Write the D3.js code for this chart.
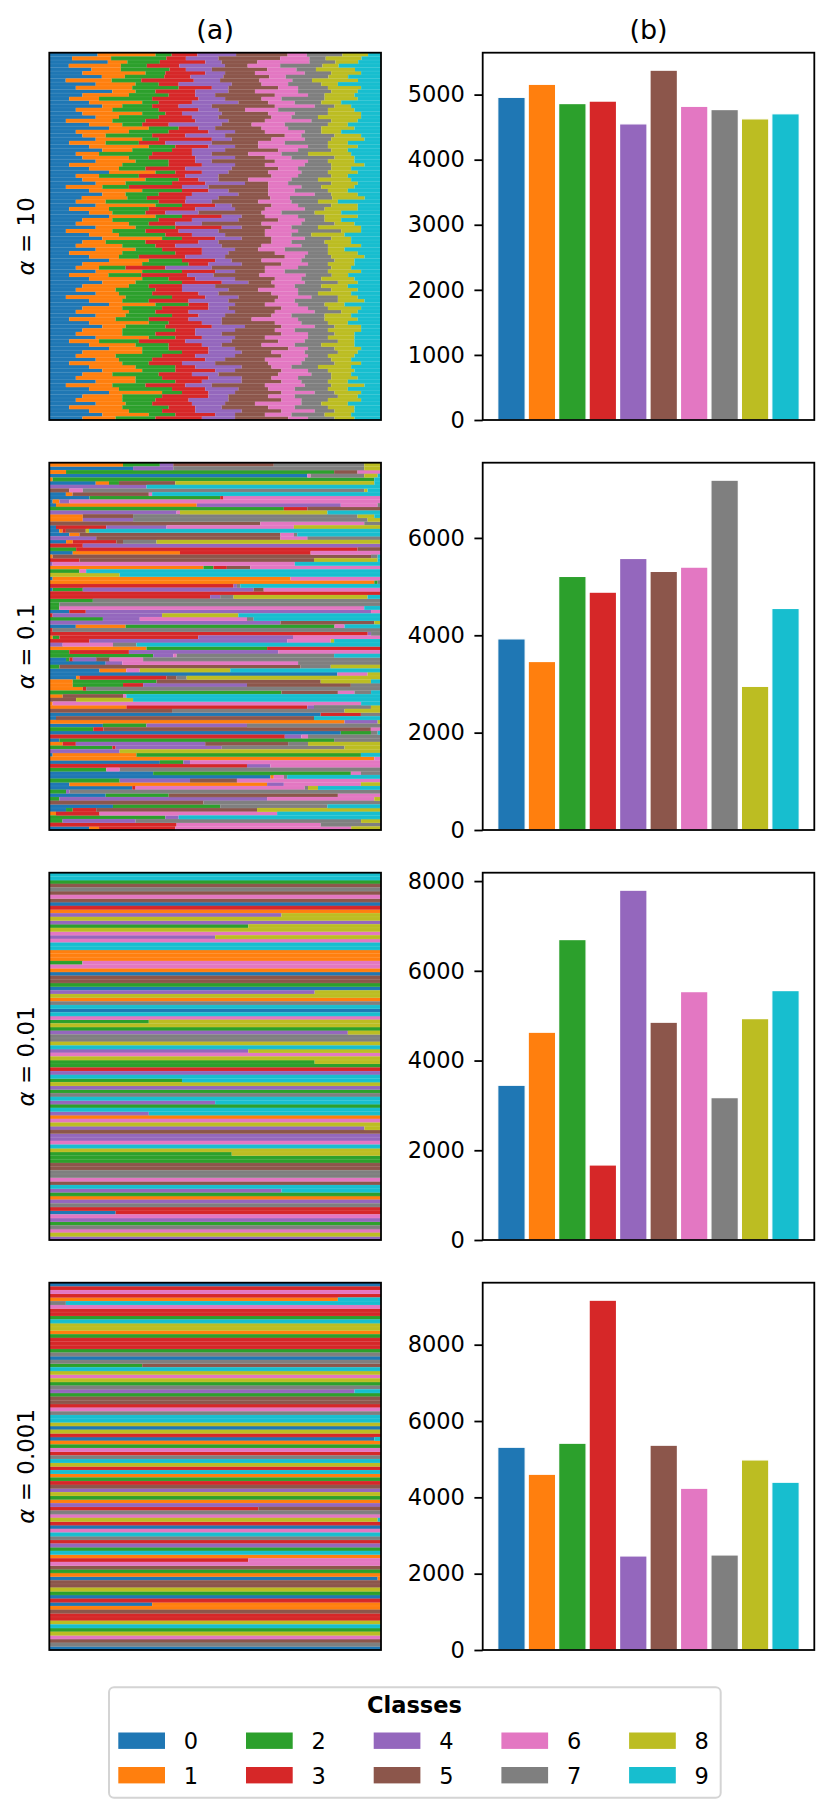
<!DOCTYPE html>
<html>
<head>
<meta charset="utf-8">
<script src="https://cdn.jsdelivr.net/npm/d3@7/dist/d3.min.js"></script>
<style>
  html, body { margin: 0; padding: 0; background: #fff; }
  svg { display: block; font-family: "DejaVu Sans", sans-serif; }
</style>
</head>
<body>
<svg id="chart" width="831" height="1815"></svg>
<script>
// ---------------- DATA ----------------
const classes = ["0","1","2","3","4","5","6","7","8","9"];
const classColors = ["#1f77b4","#ff7f0e","#2ca02c","#d62728","#9467bd","#8c564b","#e377c2","#7f7f7f","#bcbd22","#17becf"];
const alphaLabels = ["10", "0.1", "0.01", "0.001"];
const columnTitles = ["(a)", "(b)"];

// per-class sample counts (panel b)
const counts_a10   = [4958, 5158, 4862, 4900, 4550, 5375, 4820, 4770, 4627, 4705];
const counts_a01   = [3926, 3461, 5209, 4886, 5578, 5312, 5400, 7186, 2951, 4551];
const counts_a001  = [3449, 4631, 6696, 1672, 7797, 4854, 5536, 3173, 4934, 5559];
const counts_a0001 = [5313, 4605, 5418, 9166, 2464, 5366, 4238, 2490, 4980, 4396];

// y tick labels (panel b)
const ticks_a10   = [0, 1000, 2000, 3000, 4000, 5000];
const ticks_a01   = [0, 2000, 4000, 6000];
const ticks_a001  = [0, 2000, 4000, 6000, 8000];
const ticks_a0001 = [0, 2000, 4000, 6000, 8000];

// per-client class shares (panel a) - alpha = 10: weights of classes 0..9
const clients_a10 = [
"15 18 5 8 12 16 6 11 8 4","7 12 17 6 10 19 9 5 11 6","18 6 10 14 5 11 16 8 7 7","6 16 8 10 14 7 10 13 5 13",
"13 9 15 5 8 17 9 6 12 8","10 19 6 12 6 9 15 8 9 6","16 7 12 8 10 14 5 13 6 10","5 14 9 16 8 12 10 6 14 7",
"14 12 7 6 16 9 8 10 5 13","8 17 14 10 5 15 6 9 10 6","19 7 6 12 10 8 13 10 8 7","10 14 12 8 6 18 10 5 9 8",
"6 9 16 14 8 11 6 13 10 7","12 16 5 10 14 9 8 8 6 12","16 6 9 8 10 19 12 6 5 9","8 11 14 12 6 8 10 15 8 8",
"10 18 7 5 12 14 8 10 10 6","14 7 12 10 8 16 6 8 13 6","5 14 10 15 10 11 14 6 8 7","12 10 6 8 16 9 10 13 6 10",
"18 12 9 6 5 14 8 10 10 8","8 16 12 12 8 9 12 5 6 12","10 7 14 10 12 18 5 10 8 6","14 14 5 16 6 12 10 8 10 5",
"6 11 10 8 14 14 8 13 6 10","12 18 8 10 8 7 15 6 9 7","16 9 12 6 10 16 6 10 5 10","8 7 16 12 6 11 10 8 13 9",
"10 14 6 14 12 9 8 13 6 8","14 12 10 8 5 19 10 6 8 8","6 16 14 10 10 9 12 8 10 5","12 9 8 12 14 14 6 10 6 9",
"18 14 6 8 8 12 10 8 9 7","8 7 12 14 10 16 8 10 5 10","10 19 10 6 6 9 13 8 10 9","14 9 14 10 12 7 6 13 8 7",
"5 11 8 16 8 18 10 6 10 8","12 16 12 8 6 12 8 10 6 10","16 7 10 10 14 9 14 5 8 7","10 14 6 12 10 16 6 13 10 5",
"8 9 16 8 8 14 10 8 6 13","14 18 8 10 5 12 8 10 8 7","6 12 12 14 12 9 12 6 10 7","12 7 10 6 10 19 6 10 8 12",
"18 14 8 12 6 7 10 8 10 7","10 9 14 10 14 12 8 6 5 12","8 16 6 8 8 18 12 10 6 8","14 12 12 14 6 9 6 8 13 6",
"5 14 10 10 12 14 10 13 6 6","12 9 14 8 10 12 8 6 10 11","16 18 6 10 8 9 10 8 6 9","10 7 12 16 6 16 6 10 8 9",
"8 14 10 6 14 12 12 8 10 6","14 12 8 12 10 7 8 13 5 11","6 16 16 8 8 14 10 6 9 7","12 9 6 14 12 18 6 8 10 5",
"18 12 10 10 5 9 12 10 6 8","10 18 14 6 10 12 8 6 8 8","8 7 8 12 14 16 10 10 6 9","14 14 12 10 6 9 6 13 10 6",
"6 12 10 14 8 14 14 8 5 10","12 16 8 8 12 12 8 6 10 8","16 10 14 12 8 7 10 10 6 7","10 14 6 10 10 18 6 8 8 10",
"8 12 12 8 14 9 12 10 8 7","14 7 10 14 6 16 8 6 10 9","5 18 14 10 10 12 10 8 6 7","12 10 8 12 12 14 6 13 8 5",
"18 14 10 6 8 9 10 8 6 11","10 12 12 14 6 16 8 6 10 6","8 16 8 10 14 12 12 8 5 7","14 9 14 8 8 14 6 10 8 9",
"6 14 10 12 10 9 14 8 10 7","12 18 6 10 6 16 8 8 6 10","16 7 12 14 10 11 10 6 8 6","10 12 16 6 12 12 6 10 10 6",
"8 14 10 12 8 18 8 8 6 8","14 16 8 8 10 9 13 6 8 8","6 9 12 14 14 14 8 10 5 8","12 14 10 10 6 12 10 8 10 8",
"18 10 8 12 8 16 6 8 8 6","10 18 12 8 10 9 10 10 6 7","8 12 14 10 12 14 8 6 8 8","14 7 10 16 6 12 12 8 6 9",
"6 16 8 10 10 16 10 10 8 6","12 14 12 6 14 9 6 8 10 9","16 12 10 12 6 14 8 6 8 8","10 9 14 10 8 18 10 6 6 9",
"8 18 8 14 10 9 8 10 8 7","14 12 12 8 12 12 6 8 6 10","5 14 10 12 8 16 12 8 10 5","12 9 16 10 10 9 8 10 6 10",
"18 16 6 8 8 14 10 6 8 6","10 12 12 14 6 12 8 13 6 7","8 14 10 10 12 16 6 8 10 6","14 9 8 12 10 9 14 6 8 10",
"6 16 14 8 8 14 8 10 8 8","12 12 10 10 14 12 10 6 6 8","16 14 8 12 6 9 8 10 8 9","10 10 12 14 10 16 6 8 6 8"
];

// alpha = 0.1: "class:share%" (classes not listed = 0)
const clients_a01 = [
"1:22 2:11 4:4 5:30 7:27 8:5","0:25 4:12 7:57 8:5","1:5 2:80 5:7 6:7","0:77 6:1 7:16 8:4 9:1",
"1:1 2:96 9:2","0:14 1:4 2:3 5:17 8:60 9:2","4:29 9:70","5:6 6:4 7:84 8:1 9:4",
"0:5 1:2 5:23 6:1 9:69","0:12 2:39 3:1 6:47","0:1 1:2 4:3 6:93","0:2 1:42 4:43 6:11 7:1",
"2:70 3:7 5:22","4:38 6:1 8:44 9:16","1:10 5:15 7:67 8:5 9:2","1:10 4:15 7:70 8:4",
"5:63 6:31 7:5","0:2 3:15 4:18 6:38 8:26","0:3 1:1 3:1 5:6 8:1 9:88","0:6 1:3 5:60 6:4 7:1 9:25",
"4:14 5:55 6:8 7:22","0:5 1:2 3:13 5:2 7:10 8:67","3:10 4:89","2:8 3:84 5:7",
"0:7 1:32 3:39 6:21","1:1 5:96 7:2 9:1","3:9 5:70 8:19 9:1","4:1 6:73 9:26",
"1:46 2:3 3:4 5:7 6:39","2:9 6:2 9:88","8:21 9:78","0:1 1:71 6:27",
"1:97 2:1 7:1","3:55 4:1 7:1 9:42","0:1 2:9 4:51 5:3 6:35","3:99",
"3:48 4:3 7:4 8:40 9:4","2:13 7:86","2:3 7:96","2:3 6:91 9:5",
"0:6 3:5 4:86 6:3","3:1 4:33 8:23 9:43","2:16 4:11 6:32 7:2 9:38","4:69 5:28 8:2",
"0:8 1:15 2:63 6:3 9:11","3:1 7:98","3:96 4:1 7:3","1:1 2:2 3:41 4:28 6:26",
"3:12 4:59 6:13 8:1 9:14","4:4 6:15 7:7 9:73","1:29 2:36 3:34","2:6 3:18 4:45 6:31",
"2:31 4:6 6:1 7:47 9:14","0:5 2:1 3:1 4:7 5:4 6:10 7:71","0:17 4:5 6:53 7:25","2:3 5:72 7:9 8:15",
"0:15 1:8 6:4 8:27 9:45","0:86 6:9 8:4","0:8 1:1 3:26 5:3 7:3 8:58","1:7 2:25 5:49 8:15 9:3",
"1:7 2:15 3:6 4:31 5:31 7:9","1:10 3:1 7:88","2:70 5:17 6:5 7:5 9:3","1:4 5:18 6:1 9:76",
"5:8 8:17 9:74","1:1 6:93 9:6","1:23 3:54 4:2 7:17 8:3","5:37 7:52 8:11",
"0:81 3:12 7:6","0:2 5:77 9:20","1:89 4:10 8:1","0:16 2:13 4:30 7:40",
"2:13 3:3 5:79 6:3","0:87 2:9 7:2 9:1","3:71 4:5 6:2 7:22","0:3 2:82 7:14",
"1:4 3:4 4:39 5:25 7:6 8:22","2:19 3:1 4:32 7:37 8:11","4:21 8:78","0:1 1:25 2:67 9:6",
"1:97 6:2","0:33 2:7 4:2 6:57","3:59 4:7 6:33","2:17 6:4 7:78",
"0:31 2:59 6:3 7:6","0:66 1:1 6:3 7:1 9:28","2:21 4:21 5:14 6:43","0:6 1:59 4:5 6:23 8:6",
"0:25 3:1 6:51 7:1 8:3 9:19","2:5 4:1 7:93","0:17 2:19 5:51 6:13","2:3 4:62 6:32 8:2",
"5:46 7:53","0:19 2:32 7:32 9:16","0:5 2:2 3:7 5:48 8:37","1:2 3:13 6:53 9:31",
"2:35 4:4 9:61","2:4 4:22 7:68 8:6","3:38 6:43 7:18","0:12 1:3 3:23 6:53 8:9"
];

// alpha = 0.01: "class:share%"; a class without share takes the remainder
const clients_a001 = [
"9","9","2","5","7","5","6","5","0","3",
"1","4:70 8","8","4","2:60 8","8","6","4:50 8","6","9",
"9","1","1","1","2:10 6","6","1","0","5","5",
"2","0","4:80 8","8","1","7","9","0","9","6",
"2:30 8","8","2","4:90 8","7","7","8","9","4:60 8","6",
"8","2:80 8","2","3","4","9","2:40 9","8","4","2",
"7","9","4:50 9","2","9","4:30 9","1","6","8","4:95 8",
"5","4","4","6","9","8","2:55 8","2","2","5",
"5","7","7","6","5","9","4:70 9","2","1","4",
"7","3","0:20 3","6","4","2","7","6","8","4"
];

// alpha = 0.001
const clients_a0001 = [
"0","3","6","3","1:87 9","7:5 9","6","3","3","2",
"9","8","8","1","2","3","3","3","2","7",
"0","7","2:28 5","9","8","6","8","2","7","4:92 9",
"2","5","5","3","6","7","9","9","8","0",
"8","3","0:98 9","1","2","6","3","7","9","8",
"3","9","1","2","3","5","4","8","2","1",
"4","3:63 5","7","6","8:99 9","3","0","6","9","7",
"3","4","2","9","1","3:60 6","6","5","2","1",
"0:99 1","5","5","8","2","0","3","0:31 1","1","5",
"3","3","8","9","2","8","6","5","7","0"
];

// ---------------- LAYOUT ----------------
const svg = d3.select("#chart");
svg.append("rect").attr("width", 831).attr("height", 1815).attr("fill", "#fff");

const leftX0 = 49.3, leftX1 = 381;
const rightX0 = 482.7, rightX1 = 814.3;
const panelTops = [52.7, 462.7, 872.7, 1282.7];
const panelH = 367.3;
const tickFont = 22.5;

const clientSets = [clients_a10, clients_a01, clients_a001, clients_a0001];
const countSets = [counts_a10, counts_a01, counts_a001, counts_a0001];
const tickSets = [ticks_a10, ticks_a01, ticks_a001, ticks_a0001];

function parseDense(s) {
  return s.trim().split(/\s+/).map(Number);
}
function parseSparse(s) {
  const arr = new Array(10).fill(0);
  const toks = s.trim().split(/\s+/);
  let explicit = 0;
  const rest = [];
  toks.forEach(t => {
    if (t.includes(":")) {
      const [c, w] = t.split(":");
      arr[+c] = +w; explicit += +w;
    } else rest.push(+t);
  });
  rest.forEach(c => { arr[c] = Math.max(0, 100 - explicit); });
  return arr;
}
function normalize(arr) {
  const s = d3.sum(arr);
  return arr.map(v => v / s);
}

// column titles
svg.append("text").attr("x", (leftX0 + leftX1) / 2).attr("y", 39)
  .attr("text-anchor", "middle").attr("font-size", 27).text(columnTitles[0]);
svg.append("text").attr("x", (rightX0 + rightX1) / 2).attr("y", 39)
  .attr("text-anchor", "middle").attr("font-size", 27).text(columnTitles[1]);

const keys = d3.range(classes.length);

clientSets.forEach((set, p) => {
  const top = panelTops[p];
  const bottom = top + panelH;

  // ----- left: stacked client shares -----
  const rows = set.map((s, i) => normalize(p === 0 ? parseDense(s) : parseSparse(s)));
  const stacked = d3.stack().keys(keys).value((d, k) => d[k])(rows);
  const xs = d3.scaleLinear().domain([0, 1]).range([leftX0, leftX1]);
  const ys = d3.scaleBand().domain(d3.range(rows.length)).range([top, bottom]).padding(0);

  const gL = svg.append("g");
  stacked.forEach(series => {
    const segs = series.map((d, i) => ({ x0: d[0], x1: d[1], row: i }))
      .filter(d => d.x1 - d.x0 > 0);
    gL.selectAll(null).data(segs).enter().append("rect")
      .attr("x", d => xs(d.x0))
      .attr("y", d => ys(d.row))
      .attr("width", d => xs(d.x1) - xs(d.x0))
      .attr("height", ys.bandwidth() + 0.3)
      .attr("fill", classColors[series.key]);
  });
  // faint row separators like the rendered bar edges
  gL.selectAll(null).data(d3.range(1, rows.length)).enter().append("line")
    .attr("x1", leftX0).attr("x2", leftX1)
    .attr("y1", i => ys(i)).attr("y2", i => ys(i))
    .attr("stroke", "#fff").attr("stroke-opacity", 0.12).attr("stroke-width", 0.6);
  svg.append("rect").attr("x", leftX0).attr("y", top)
    .attr("width", leftX1 - leftX0).attr("height", panelH)
    .attr("fill", "none").attr("stroke", "#000").attr("stroke-width", 1.8);

  // y label
  const yl = svg.append("text")
    .attr("transform", `translate(34.3,${(top + bottom) / 2}) rotate(-90)`)
    .attr("text-anchor", "middle").attr("font-size", 23);
  yl.append("tspan").attr("font-style", "italic").text("α");
  yl.append("tspan").text(" = " + alphaLabels[p]);

  // ----- right: class counts -----
  const counts = countSets[p];
  const xb = d3.scaleBand().domain(classes).range([rightX0, rightX1])
    .paddingInner(0.1).paddingOuter(0.495);
  const yb = d3.scaleLinear().domain([0, d3.max(counts) * 1.05]).range([bottom, top]);
  const gR = svg.append("g");
  gR.selectAll("rect").data(counts).enter().append("rect")
    .attr("x", (d, i) => xb(classes[i]))
    .attr("width", xb.bandwidth())
    .attr("y", d => yb(d))
    .attr("height", d => bottom - yb(d))
    .attr("fill", (d, i) => classColors[i])
    .attr("stroke", "#fff").attr("stroke-width", 1.2);

  const axis = d3.axisLeft(yb).tickValues(tickSets[p]).tickSize(8.3).tickPadding(9.5)
    .tickFormat(d3.format("d"));
  const ga = svg.append("g").attr("transform", `translate(${rightX0},0)`).call(axis);
  ga.select(".domain").remove();
  ga.selectAll(".tick line").attr("stroke", "#000").attr("stroke-width", 1.8);
  ga.selectAll(".tick text").attr("font-size", tickFont)
    .attr("font-family", "DejaVu Sans").attr("fill", "#000");

  svg.append("rect").attr("x", rightX0).attr("y", top)
    .attr("width", rightX1 - rightX0).attr("height", panelH)
    .attr("fill", "none").attr("stroke", "#000").attr("stroke-width", 1.8);
});

// ---------------- LEGEND ----------------
const lg = svg.append("g");
lg.append("rect").attr("x", 109).attr("y", 1687.3).attr("width", 611.7).attr("height", 110.4)
  .attr("rx", 5).attr("fill", "#fff").attr("stroke", "#d4d4d4").attr("stroke-width", 2);
lg.append("text").attr("x", 414.5).attr("y", 1713.3).attr("text-anchor", "middle")
  .attr("font-size", 22.5).attr("font-weight", "bold").text("Classes");
classes.forEach((c, i) => {
  const col = Math.floor(i / 2), row = i % 2;
  const px = 118.3 + col * 127.7;
  const py = 1732.5 + row * 34.5;
  lg.append("rect").attr("x", px).attr("y", py).attr("width", 46.7).attr("height", 16.4)
    .attr("fill", classColors[i]);
  lg.append("text").attr("x", px + 65.5).attr("y", py + 16.5)
    .attr("font-size", 22.5).text(c);
});
</script>
</body>
</html>
